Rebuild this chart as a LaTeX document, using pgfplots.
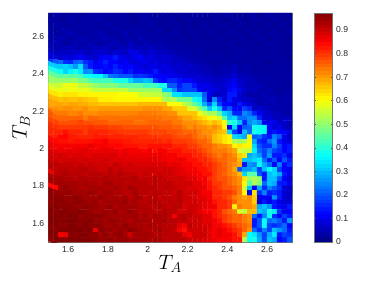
\documentclass[border=0pt]{standalone}
\usepackage{fontspec}
\usepackage{pgfplots}
\pgfplotsset{compat=1.18}
\setmainfont{Liberation Sans}
\pgfplotsset{colormap={basejet}{rgb255(0cm)=(0,0,128) rgb255(1cm)=(0,0,255) rgb255(3cm)=(0,255,255) rgb255(5cm)=(255,255,0) rgb255(7cm)=(255,0,0) rgb255(8cm)=(128,0,0)}}
\pgfplotsset{colormap={myjet}{samples of colormap=(64 of basejet)}}
\begin{document}
\begin{tikzpicture}
\path[use as bounding box] (0pt,0pt) rectangle (374pt,281pt);
\begin{axis}[
  at={(48.3pt,39pt)}, anchor=south west,
  scale only axis, width=243.7pt, height=229pt,
  xmin=1.5, xmax=2.725, ymin=1.5, ymax=2.725,
  xtick={1.6,1.8,2,2.2,2.4,2.6}, ytick={1.6,1.8,2,2.2,2.4,2.6},
  tick align=inside, major tick length=2pt,
  tick style={draw=black!70, line width=0.3pt},
  axis line style={draw=black!55, line width=0.5pt},
  ticklabel style={font=\fontsize{8.6}{9}\selectfont, text=black!85},
  /pgf/number format/assume math mode=true,
  xticklabel style={yshift=-1pt}, yticklabel style={xshift=-0.5pt},
  xlabel={\fontsize{20}{22}\selectfont $T_A$},
  ylabel={\fontsize{20}{22}\selectfont $T_B$},
  xlabel style={at={(axis description cs:0.5,0)}, anchor=north, yshift=-10pt},
  ylabel style={at={(axis description cs:0,0.5)}, anchor=south, yshift=15pt},
  colormap name=myjet,
  point meta min=0, point meta max=0.972,
  colorbar,
  colorbar sampled,
  colorbar style={
    samples=65,
    at={(parent axis.north east)}, anchor=north west, xshift=13.8pt,
    width=18.3pt,
    ytick={0,0.1,0.2,0.3,0.4,0.5,0.6,0.7,0.8,0.9},
    ylabel={},
    tick align=inside, major tick length=2pt,
    yticklabel pos=right,
    yticklabel style={font=\fontsize{8.6}{9}\selectfont, text=black!85, xshift=0pt},
    /pgf/number format/assume math mode=true,
    axis line style={draw=black!55, line width=0.5pt},
  },
]
\addplot[matrix plot*, mesh/cols=49, point meta=\thisrowno{0}/98] table[header=false, row sep=crcr,
  x expr={1.5125+0.025*mod(\coordindex,49)},
  y expr={2.7125-0.025*floor(\coordindex/49)}] {
2\\3\\3\\2\\3\\3\\3\\2\\3\\4\\3\\4\\3\\3\\4\\3\\2\\3\\3\\3\\3\\2\\3\\3\\3\\2\\3\\3\\2\\3\\3\\2\\3\\3\\2\\3\\3\\2\\2\\2\\3\\3\\2\\2\\3\\3\\2\\3\\2\\
3\\3\\2\\3\\4\\3\\3\\4\\3\\4\\4\\3\\3\\4\\3\\3\\3\\2\\3\\4\\3\\3\\3\\2\\3\\3\\2\\3\\3\\3\\2\\3\\2\\3\\3\\2\\2\\3\\3\\2\\2\\3\\3\\3\\2\\3\\3\\2\\3\\
3\\4\\3\\3\\3\\4\\3\\3\\4\\3\\3\\4\\4\\3\\3\\4\\3\\3\\3\\3\\4\\3\\2\\3\\3\\3\\3\\2\\3\\2\\3\\3\\3\\2\\3\\3\\3\\2\\3\\3\\2\\3\\2\\3\\3\\2\\3\\3\\2\\
3\\3\\4\\4\\3\\3\\4\\4\\3\\4\\3\\3\\3\\4\\4\\3\\4\\3\\4\\3\\3\\3\\4\\3\\2\\3\\3\\3\\3\\3\\2\\3\\3\\3\\3\\2\\3\\3\\2\\3\\3\\2\\3\\3\\2\\3\\2\\3\\3\\
4\\3\\3\\4\\5\\4\\3\\3\\4\\3\\5\\4\\3\\3\\4\\5\\3\\4\\3\\4\\3\\4\\3\\3\\3\\4\\3\\2\\3\\3\\3\\2\\3\\3\\2\\3\\3\\3\\3\\2\\3\\3\\3\\2\\3\\3\\3\\2\\3\\
3\\4\\5\\4\\3\\4\\4\\5\\3\\4\\4\\5\\4\\4\\3\\4\\4\\3\\5\\3\\4\\3\\4\\4\\3\\3\\3\\3\\2\\3\\3\\3\\2\\3\\3\\3\\2\\3\\3\\3\\2\\3\\3\\3\\2\\3\\3\\3\\2\\
4\\5\\4\\3\\4\\5\\4\\4\\5\\4\\3\\4\\5\\5\\4\\4\\6\\4\\4\\5\\4\\4\\5\\3\\4\\3\\4\\3\\3\\3\\3\\3\\3\\2\\3\\3\\3\\3\\2\\3\\3\\3\\2\\3\\3\\3\\3\\2\\3\\
5\\4\\5\\5\\6\\5\\4\\5\\5\\6\\5\\6\\5\\4\\6\\5\\7\\5\\6\\5\\6\\5\\4\\5\\4\\4\\3\\4\\3\\4\\3\\3\\3\\3\\3\\2\\3\\3\\3\\3\\3\\3\\3\\2\\3\\3\\3\\3\\3\\
6\\5\\7\\6\\6\\7\\8\\6\\5\\7\\8\\7\\6\\8\\7\\6\\9\\10\\7\\6\\8\\7\\6\\6\\5\\5\\4\\4\\4\\3\\4\\3\\3\\3\\3\\3\\3\\3\\4\\3\\3\\2\\3\\3\\3\\3\\3\\2\\3\\
9\\8\\7\\9\\8\\10\\11\\9\\8\\7\\10\\12\\11\\14\\10\\9\\8\\10\\12\\8\\9\\8\\7\\8\\7\\6\\5\\5\\4\\4\\4\\3\\4\\3\\4\\3\\3\\3\\4\\3\\3\\3\\3\\3\\3\\3\\3\\3\\2\\
16\\20\\22\\16\\15\\21\\22\\16\\14\\10\\12\\15\\12\\12\\10\\11\\9\\8\\9\\10\\8\\9\\7\\8\\7\\6\\7\\6\\5\\5\\4\\4\\3\\3\\3\\3\\4\\3\\3\\3\\3\\3\\3\\3\\2\\3\\3\\3\\3\\
31\\31\\31\\32\\30\\26\\33\\20\\14\\11\\12\\13\\11\\15\\12\\11\\12\\10\\9\\8\\9\\10\\8\\9\\8\\7\\8\\6\\7\\6\\5\\5\\4\\3\\4\\4\\4\\5\\4\\3\\4\\3\\3\\3\\3\\3\\3\\3\\3\\
38\\38\\37\\32\\35\\38\\34\\25\\26\\16\\15\\11\\13\\16\\15\\12\\14\\10\\11\\10\\10\\14\\10\\8\\10\\8\\7\\8\\6\\7\\6\\5\\5\\4\\4\\5\\5\\6\\4\\4\\4\\3\\3\\3\\3\\3\\4\\3\\3\\
45\\45\\44\\45\\44\\44\\42\\38\\36\\35\\35\\30\\23\\22\\20\\20\\20\\16\\17\\16\\14\\12\\12\\12\\10\\10\\9\\8\\8\\7\\8\\6\\6\\5\\5\\5\\6\\8\\5\\5\\5\\4\\3\\4\\3\\3\\3\\3\\4\\
50\\50\\50\\49\\50\\50\\47\\47\\43\\42\\42\\42\\42\\38\\38\\38\\32\\28\\28\\30\\29\\16\\13\\12\\15\\15\\13\\11\\12\\10\\8\\8\\7\\6\\6\\7\\8\\10\\7\\6\\5\\5\\4\\3\\4\\3\\3\\3\\3\\
54\\54\\55\\58\\58\\57\\54\\54\\52\\50\\48\\48\\48\\48\\45\\45\\45\\45\\45\\42\\42\\42\\38\\38\\20\\20\\14\\18\\18\\14\\10\\10\\9\\8\\7\\8\\10\\12\\8\\6\\5\\5\\5\\4\\3\\4\\3\\3\\3\\
57\\57\\58\\57\\58\\58\\57\\58\\56\\54\\54\\54\\54\\54\\54\\54\\50\\50\\50\\50\\50\\50\\50\\32\\32\\25\\16\\18\\18\\18\\12\\9\\10\\9\\8\\6\\12\\13\\10\\7\\5\\6\\4\\4\\4\\3\\3\\3\\3\\
62\\62\\61\\62\\62\\62\\60\\61\\60\\60\\60\\60\\60\\60\\59\\59\\59\\59\\55\\55\\54\\54\\54\\50\\46\\33\\33\\30\\30\\30\\30\\20\\10\\6\\6\\8\\14\\14\\8\\5\\4\\4\\4\\5\\4\\4\\3\\4\\4\\
66\\66\\65\\66\\65\\65\\66\\65\\64\\64\\61\\61\\61\\60\\60\\60\\60\\60\\60\\60\\60\\60\\60\\52\\52\\52\\46\\46\\46\\38\\35\\22\\8\\25\\14\\8\\14\\10\\8\\6\\6\\5\\4\\4\\5\\5\\4\\4\\4\\
68\\68\\68\\67\\68\\68\\67\\67\\66\\66\\65\\65\\65\\65\\65\\65\\65\\65\\66\\66\\66\\66\\66\\66\\59\\59\\59\\54\\50\\45\\40\\28\\20\\32\\18\\12\\12\\8\\14\\10\\8\\6\\4\\5\\4\\5\\4\\4\\4\\
70\\70\\69\\70\\70\\69\\69\\70\\68\\68\\69\\69\\69\\69\\69\\69\\69\\69\\69\\70\\70\\70\\70\\68\\68\\64\\64\\64\\56\\56\\48\\42\\30\\38\\30\\15\\20\\12\\12\\18\\15\\6\\8\\6\\5\\4\\4\\4\\4\\
72\\72\\72\\72\\71\\71\\72\\70\\70\\70\\71\\71\\71\\71\\71\\71\\71\\71\\72\\72\\72\\72\\71\\71\\70\\70\\65\\65\\65\\65\\58\\54\\50\\52\\44\\32\\28\\15\\15\\25\\22\\15\\10\\8\\6\\5\\5\\4\\4\\
75\\74\\74\\74\\74\\74\\74\\72\\74\\74\\73\\73\\73\\73\\73\\73\\73\\73\\73\\73\\73\\73\\73\\72\\72\\72\\70\\68\\68\\66\\64\\62\\60\\58\\56\\44\\30\\32\\22\\22\\25\\25\\15\\8\\8\\6\\5\\6\\5\\
77\\77\\76\\76\\76\\76\\77\\76\\76\\75\\75\\75\\74\\74\\74\\74\\74\\73\\73\\73\\74\\74\\74\\74\\74\\72\\72\\70\\70\\70\\68\\66\\64\\66\\64\\58\\40\\38\\30\\15\\25\\28\\25\\10\\10\\10\\6\\8\\5\\
79\\79\\78\\78\\78\\78\\78\\78\\79\\78\\78\\78\\77\\77\\77\\76\\76\\76\\76\\76\\76\\76\\75\\75\\75\\74\\74\\72\\70\\72\\70\\70\\68\\70\\68\\60\\10\\32\\12\\20\\22\\38\\36\\36\\12\\8\\10\\6\\5\\
80\\80\\80\\82\\80\\80\\80\\78\\80\\80\\80\\80\\79\\79\\78\\78\\78\\78\\78\\78\\77\\77\\77\\77\\76\\76\\75\\74\\74\\74\\72\\70\\70\\68\\66\\65\\32\\18\\10\\30\\22\\38\\36\\35\\12\\14\\12\\12\\8\\
81\\81\\83\\83\\81\\81\\80\\80\\80\\81\\81\\81\\80\\80\\80\\80\\80\\80\\79\\79\\79\\79\\78\\78\\78\\77\\76\\76\\76\\74\\72\\72\\70\\66\\64\\62\\60\\32\\30\\28\\60\\20\\22\\16\\14\\24\\20\\10\\6\\
83\\83\\82\\82\\81\\82\\82\\82\\82\\83\\83\\84\\82\\82\\82\\81\\81\\80\\80\\80\\80\\80\\80\\79\\80\\78\\78\\78\\77\\76\\74\\74\\72\\66\\65\\62\\60\\52\\50\\52\\60\\28\\16\\14\\22\\26\\14\\10\\8\\
85\\84\\84\\84\\84\\84\\84\\84\\86\\84\\84\\84\\83\\83\\83\\82\\82\\82\\81\\81\\82\\82\\82\\82\\82\\80\\80\\80\\78\\78\\76\\74\\74\\72\\70\\70\\68\\60\\62\\60\\60\\32\\20\\16\\16\\24\\18\\12\\14\\
86\\86\\85\\85\\86\\85\\86\\86\\85\\85\\85\\86\\85\\85\\84\\85\\84\\84\\84\\83\\84\\82\\84\\84\\82\\82\\82\\80\\80\\80\\78\\76\\74\\72\\72\\72\\70\\68\\56\\54\\54\\34\\22\\18\\24\\18\\16\\12\\14\\
87\\87\\88\\87\\86\\87\\87\\86\\86\\87\\87\\86\\87\\87\\85\\86\\85\\85\\85\\85\\85\\85\\85\\84\\84\\84\\82\\82\\82\\80\\80\\78\\76\\74\\72\\74\\72\\70\\64\\62\\28\\30\\26\\18\\26\\14\\14\\16\\10\\
88\\88\\87\\88\\88\\88\\87\\88\\87\\87\\87\\88\\87\\86\\87\\86\\86\\86\\86\\86\\86\\86\\85\\85\\84\\84\\85\\84\\82\\82\\80\\80\\78\\76\\74\\74\\72\\72\\66\\30\\30\\32\\34\\22\\14\\20\\12\\20\\14\\
88\\90\\89\\89\\89\\88\\89\\88\\89\\88\\88\\88\\87\\89\\88\\87\\88\\87\\87\\87\\87\\87\\87\\87\\85\\86\\85\\84\\84\\82\\82\\80\\80\\78\\76\\74\\72\\70\\68\\14\\26\\24\\36\\28\\22\\12\\24\\12\\16\\
90\\89\\90\\90\\89\\89\\90\\90\\89\\89\\88\\88\\90\\88\\89\\88\\88\\88\\88\\88\\88\\88\\87\\88\\88\\87\\86\\85\\84\\84\\82\\82\\80\\78\\76\\75\\72\\68\\20\\26\\26\\30\\18\\30\\36\\32\\18\\12\\10\\
85\\90\\90\\91\\90\\90\\90\\89\\90\\90\\90\\89\\90\\89\\91\\89\\89\\89\\88\\89\\88\\88\\89\\88\\88\\87\\86\\86\\85\\84\\84\\82\\82\\78\\76\\74\\72\\70\\66\\32\\44\\44\\20\\14\\30\\32\\28\\14\\10\\
91\\91\\92\\91\\91\\90\\91\\91\\90\\91\\90\\91\\90\\90\\90\\90\\90\\91\\89\\89\\89\\90\\89\\89\\88\\88\\88\\87\\86\\86\\84\\84\\80\\78\\76\\76\\74\\72\\70\\62\\50\\52\\50\\14\\30\\30\\20\\12\\8\\
92\\92\\92\\92\\92\\92\\91\\92\\91\\91\\90\\92\\92\\90\\91\\90\\90\\90\\90\\90\\89\\90\\89\\89\\90\\88\\88\\88\\88\\86\\86\\84\\82\\78\\78\\76\\74\\72\\70\\60\\44\\52\\48\\22\\30\\28\\14\\14\\10\\
83\\83\\92\\93\\92\\92\\91\\91\\92\\92\\92\\91\\91\\92\\91\\90\\92\\91\\90\\90\\90\\90\\89\\90\\89\\89\\88\\88\\87\\87\\86\\85\\82\\80\\78\\76\\76\\74\\72\\55\\30\\12\\28\\16\\24\\20\\16\\8\\6\\
94\\93\\93\\93\\93\\92\\92\\92\\93\\92\\91\\92\\92\\91\\91\\90\\90\\92\\90\\90\\89\\90\\90\\89\\89\\88\\90\\88\\88\\88\\86\\84\\84\\80\\80\\78\\78\\76\\72\\60\\12\\62\\16\\24\\14\\16\\14\\8\\6\\
94\\94\\94\\93\\93\\94\\93\\92\\92\\92\\93\\92\\91\\92\\91\\92\\90\\91\\92\\89\\90\\90\\88\\90\\89\\89\\90\\88\\88\\87\\86\\86\\84\\80\\80\\78\\76\\72\\70\\68\\70\\64\\10\\12\\10\\26\\14\\8\\6\\
93\\94\\94\\94\\93\\94\\94\\93\\92\\93\\91\\92\\92\\92\\92\\93\\91\\92\\90\\90\\91\\91\\90\\89\\90\\89\\90\\88\\88\\88\\87\\86\\85\\82\\80\\80\\78\\74\\70\\70\\70\\64\\8\\14\\10\\14\\10\\8\\8\\
94\\95\\94\\94\\94\\93\\93\\94\\93\\93\\92\\92\\93\\91\\92\\92\\92\\92\\91\\91\\90\\90\\91\\90\\89\\90\\90\\87\\88\\88\\87\\86\\85\\84\\80\\80\\78\\60\\72\\70\\70\\68\\28\\30\\26\\14\\12\\10\\14\\
95\\94\\95\\95\\94\\94\\95\\94\\93\\92\\92\\93\\92\\93\\91\\92\\93\\92\\90\\91\\91\\90\\90\\91\\90\\90\\88\\88\\89\\88\\86\\84\\84\\82\\80\\76\\74\\72\\56\\54\\66\\66\\30\\28\\38\\34\\16\\10\\12\\
94\\95\\95\\94\\95\\95\\93\\94\\94\\94\\94\\93\\92\\92\\92\\92\\92\\93\\91\\92\\90\\92\\91\\91\\90\\84\\90\\90\\89\\88\\88\\86\\86\\82\\80\\78\\76\\74\\74\\72\\70\\22\\14\\24\\36\\16\\12\\18\\14\\
95\\95\\94\\95\\96\\95\\94\\94\\95\\93\\93\\92\\93\\93\\92\\92\\91\\92\\92\\92\\91\\91\\91\\92\\90\\90\\89\\90\\88\\88\\88\\86\\86\\84\\82\\78\\76\\74\\74\\72\\70\\14\\20\\36\\22\\24\\20\\14\\26\\
95\\96\\94\\94\\95\\95\\94\\95\\94\\94\\94\\92\\92\\93\\92\\94\\92\\92\\92\\91\\92\\91\\91\\90\\90\\90\\86\\84\\90\\88\\88\\87\\87\\84\\84\\82\\80\\78\\76\\74\\72\\14\\20\\36\\18\\16\\18\\22\\12\\
94\\94\\95\\96\\95\\95\\96\\95\\95\\85\\94\\93\\93\\92\\93\\92\\94\\93\\92\\91\\91\\91\\92\\90\\90\\89\\84\\82\\88\\88\\88\\88\\86\\84\\86\\84\\82\\80\\78\\74\\70\\22\\16\\24\\18\\30\\26\\22\\14\\
95\\95\\84\\85\\95\\94\\95\\95\\94\\94\\92\\94\\92\\93\\94\\92\\88\\92\\92\\92\\92\\90\\91\\90\\90\\90\\90\\86\\84\\88\\88\\88\\86\\84\\86\\84\\84\\82\\78\\68\\36\\34\\26\\18\\28\\34\\14\\18\\16\\
94\\95\\95\\94\\96\\95\\95\\95\\95\\94\\93\\93\\94\\92\\93\\93\\92\\92\\92\\92\\91\\92\\92\\90\\90\\90\\90\\90\\88\\88\\88\\87\\86\\85\\84\\84\\84\\82\\82\\52\\36\\38\\28\\18\\30\\28\\12\\14\\20\\
};
\end{axis}
\end{tikzpicture}
\end{document}
